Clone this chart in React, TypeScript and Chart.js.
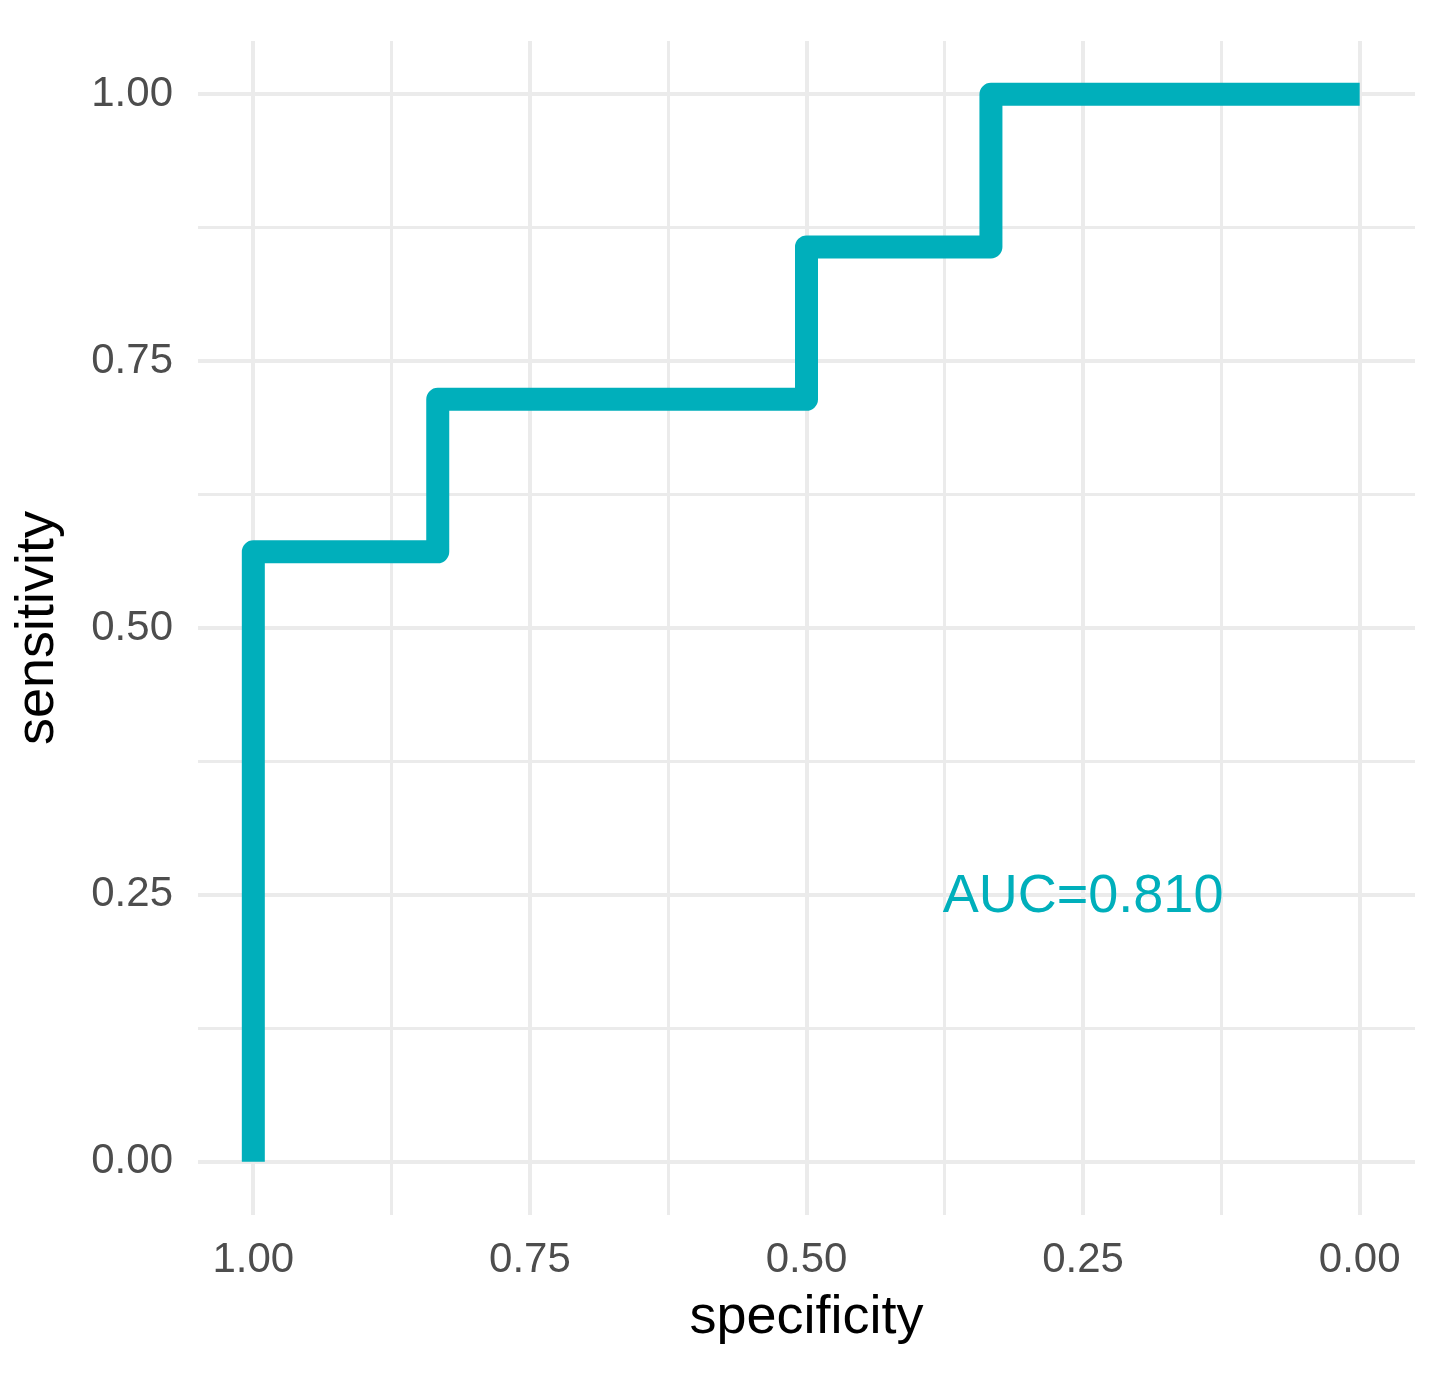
import React, { useEffect, useRef } from "react";
import { Chart, registerables } from "chart.js";

Chart.register(...registerables);

// ROC curve vertices (specificity on reversed x axis, sensitivity on y)
const specificity = [1, 1, 0.8333, 0.8333, 0.5, 0.5, 0.3333, 0.3333, 0];
const sensitivity = [0, 0.5714, 0.5714, 0.7143, 0.7143, 0.8571, 0.8571, 1, 1];

const tickValues = [0, 0.125, 0.25, 0.375, 0.5, 0.625, 0.75, 0.875, 1];
const majorTicks = [0, 0.25, 0.5, 0.75, 1];

const aucLabel = "AUC=0.810";
const aucPosition = { x: 0.25, y: 0.25 };

const LINE_COLOR = "#00AFBB";
const GRID_COLOR = "#EBEBEB";
const FONT = "'Liberation Sans', Arial, Helvetica, sans-serif";

const isMajor = (v: number) => majorTicks.some((m) => Math.abs(m - v) < 1e-9);

export default function App() {
  const ref = useRef<HTMLCanvasElement | null>(null);

  useEffect(() => {
    document.body.style.margin = "0";
    const canvas = ref.current;
    if (!canvas) return;

    const aucPlugin = {
      id: "aucText",
      afterDatasetsDraw(chart: any) {
        const { ctx, scales } = chart;
        const px = scales.x.getPixelForValue(aucPosition.x);
        const py = scales.y.getPixelForValue(aucPosition.y);
        ctx.save();
        ctx.font = `54px ${FONT}`;
        ctx.fillStyle = LINE_COLOR;
        ctx.textAlign = "center";
        ctx.textBaseline = "middle";
        ctx.fillText(aucLabel, px, py + 2);
        ctx.restore();
      },
    };

    const setTicks = (scale: any) => {
      scale.ticks = tickValues.map((v) => ({ value: v }));
    };

    const gridWidth = (c: any) => (c.tick && isMajor(c.tick.value) ? 4 : 3);

    const chart = new Chart(canvas, {
      type: "line",
      data: {
        datasets: [
          {
            data: specificity.map((s, i) => ({ x: s, y: sensitivity[i] })),
            borderColor: LINE_COLOR,
            backgroundColor: LINE_COLOR,
            borderWidth: 23,
            borderCapStyle: "butt",
            borderJoinStyle: "round",
            pointRadius: 0,
            tension: 0,
            fill: false,
          },
        ],
      },
      options: {
        responsive: false,
        animation: false,
        layout: { padding: { top: 41, right: 25, left: 0, bottom: 0 } },
        plugins: {
          legend: { display: false },
          tooltip: { enabled: false },
        },
        scales: {
          x: {
            type: "linear",
            reverse: true,
            min: -0.05,
            max: 1.05,
            afterBuildTicks: setTicks,
            afterFit: (s: any) => {
              s.height = 158;
              s.paddingLeft = 0;
              s.paddingRight = 0;
            },
            border: { display: false },
            grid: { color: GRID_COLOR, lineWidth: gridWidth, drawTicks: false },
            ticks: {
              autoSkip: false,
              maxRotation: 0,
              padding: 20,
              color: "#4D4D4D",
              font: { family: FONT, size: 42 },
              callback: (v: any) => (isMajor(Number(v)) ? Number(v).toFixed(2) : ""),
            },
            title: {
              display: true,
              text: "specificity",
              color: "#000000",
              font: { family: FONT, size: 54 },
              padding: { top: 0, bottom: 22 },
            },
          },
          y: {
            type: "linear",
            min: -0.05,
            max: 1.05,
            afterBuildTicks: setTicks,
            afterFit: (s: any) => {
              s.width = 198;
              s.paddingTop = 0;
              s.paddingBottom = 0;
            },
            border: { display: false },
            grid: { color: GRID_COLOR, lineWidth: gridWidth, drawTicks: false },
            ticks: {
              autoSkip: false,
              padding: 25,
              color: "#4D4D4D",
              font: { family: FONT, size: 42 },
              callback: (v: any) => (isMajor(Number(v)) ? Number(v).toFixed(2) : ""),
            },
            title: {
              display: true,
              text: "sensitivity",
              color: "#000000",
              font: { family: FONT, size: 54 },
              padding: { top: 6, bottom: 0 },
            },
          },
        },
      },
      plugins: [aucPlugin],
    } as any);

    return () => chart.destroy();
  }, []);

  return (
    <div style={{ position: "absolute", left: 0, top: 0, width: 1440, height: 1373, background: "#fff" }}>
      <canvas ref={ref} width={1440} height={1373} style={{ display: "block", width: 1440, height: 1373 }} />
    </div>
  );
}
